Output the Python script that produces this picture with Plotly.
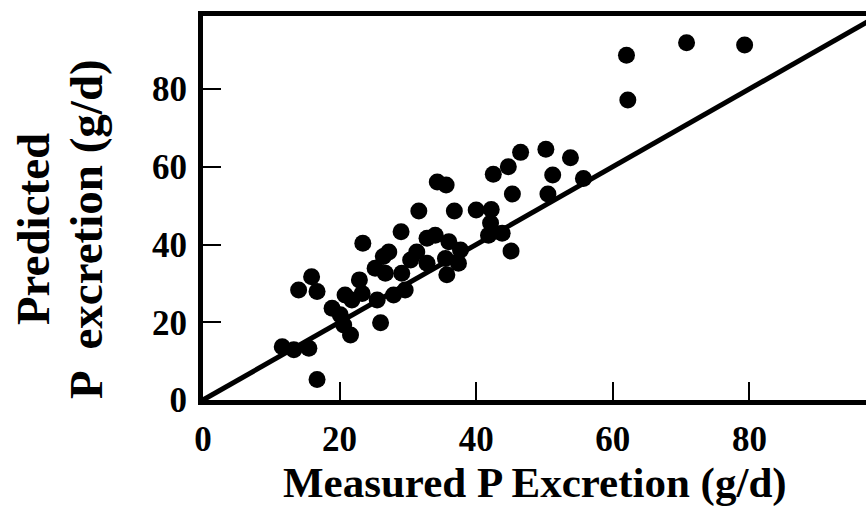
import plotly.graph_objects as go

measured = [11.6, 13.3, 15.5, 16.7, 14.0, 15.9, 16.7, 18.9, 20.1, 20.6, 21.6, 20.8, 21.8,
            22.9, 23.3, 23.4, 25.2, 25.5, 26.0, 26.4, 26.7, 27.2, 27.9, 29.0, 29.1, 29.6,
            30.4, 31.3, 31.6, 32.8, 32.8, 34.0, 34.3, 35.6, 35.5, 35.7, 36.0, 36.8, 37.7,
            37.4, 40.0, 42.2, 42.1, 41.8, 43.8, 45.1, 42.5, 44.7, 46.5, 50.2, 53.8, 51.2,
            55.7, 45.3, 50.5, 62.0, 62.2, 70.8, 79.3]
predicted = [13.7, 12.9, 13.3, 5.3, 28.3, 31.7, 27.9, 23.6, 21.9, 19.3, 16.7, 27.0, 25.7,
             30.9, 27.4, 40.3, 33.9, 25.7, 19.9, 36.9, 32.6, 38.1, 27.0, 43.3, 32.6, 28.3,
             36.0, 38.1, 48.6, 41.6, 35.2, 42.4, 56.1, 55.3, 36.4, 32.2, 40.7, 48.6, 38.6,
             35.2, 48.9, 49.0, 45.5, 42.4, 42.9, 38.3, 58.1, 60.0, 63.7, 64.5, 62.3, 57.9,
             57.0, 53.0, 53.0, 88.7, 77.2, 91.9, 91.3]
line_x = [0, 100]
line_y = [0, 100]
tick_vals = [0, 20, 40, 60, 80]
x_title = "Measured P Excretion (g/d)"
y_title_1 = "Predicted"
y_title_2 = "P  excretion (g/d)"

FONT = "Liberation Serif, Times New Roman, serif"

fig = go.Figure()
fig.add_trace(go.Scatter(x=line_x, y=line_y, mode="lines",
                         line=dict(color="black", width=5), showlegend=False))
fig.add_trace(go.Scatter(x=measured, y=predicted, mode="markers",
                         marker=dict(color="black", size=17, line=dict(width=0)),
                         showlegend=False))

L, R, T, B = 203, 0, 16, 108
fig.update_layout(
    width=866, height=508,
    margin=dict(l=L, r=R, t=T, b=B),
    paper_bgcolor="white", plot_bgcolor="white",
    font=dict(family=FONT, color="black"),
    xaxis=dict(range=[0, 97.07], tickvals=tick_vals, ticks="inside", ticklen=18,
               tickwidth=2, tickcolor="black", showline=True, linewidth=5,
               linecolor="black", mirror=True, showgrid=False, zeroline=False,
               tickfont=dict(size=35, family=FONT, weight="bold"),
               ticklabelstandoff=4),
    yaxis=dict(range=[0, 98.78], tickvals=tick_vals, ticks="inside", ticklen=18,
               tickwidth=2, tickcolor="black", showline=True, linewidth=5,
               linecolor="black", mirror=False, showgrid=False, zeroline=False,
               tickfont=dict(size=35, family=FONT, weight="bold"),
               ticklabelstandoff=4),
    annotations=[
        dict(text=x_title, xref="paper", yref="paper", x=0.5, y=0, xanchor="center",
             yanchor="top", yshift=-58, showarrow=False, borderpad=0,
             font=dict(size=43, family=FONT, weight="bold")),
        dict(text=y_title_1, xref="paper", yref="paper", x=0, y=0.445, xanchor="center",
             yanchor="middle", xshift=33 - L, textangle=-90, showarrow=False,
             font=dict(size=47, family=FONT, weight="bold")),
        dict(text=y_title_2, xref="paper", yref="paper", x=0, y=0.445, xanchor="center",
             yanchor="middle", xshift=86 - L, textangle=-90, showarrow=False,
             font=dict(size=47, family=FONT, weight="bold")),
    ],
)

fig.write_html("out.html")
